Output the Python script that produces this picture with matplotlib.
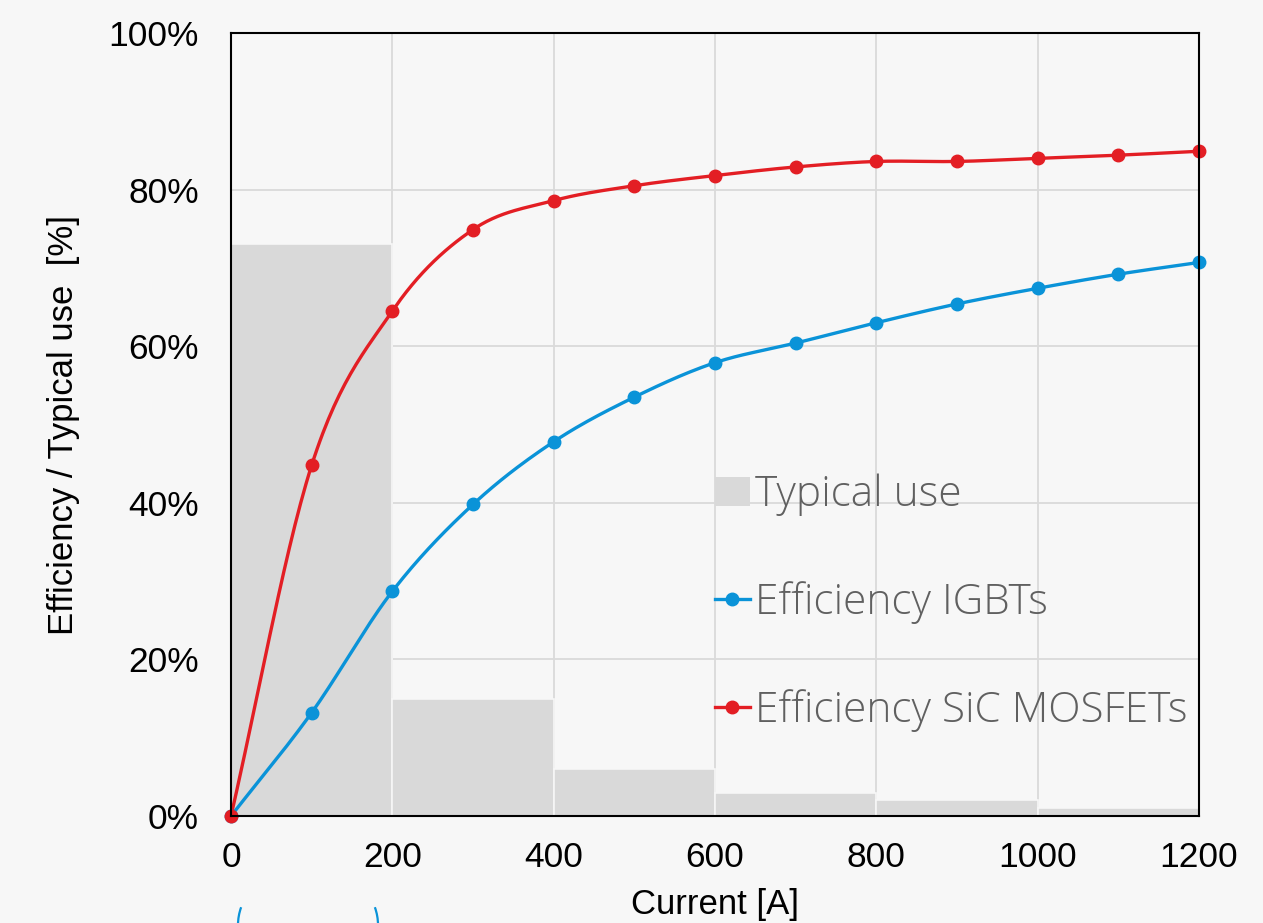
import numpy as np
import matplotlib.pyplot as plt
from matplotlib.patches import Arc, Patch
from matplotlib.lines import Line2D
from matplotlib.ticker import FuncFormatter

# Datos
corriente = [0, 100, 200, 300, 400, 500, 600, 700, 800, 900, 1000, 1100, 1200]
ef_igbt = [0, 13.2, 28.7, 39.8, 47.8, 53.5, 57.9, 60.4, 63.0, 65.4, 67.4, 69.2, 70.7]
ef_sic = [0, 44.8, 64.5, 74.9, 78.6, 80.5, 81.8, 82.9, 83.6, 83.6, 84.0, 84.4, 84.9]

tramos = [0, 200, 400, 600, 800, 1000]
uso_tipico = [73, 15, 6, 3, 2, 1]

BG = '#f7f7f7'
ROJO = '#e31e24'
AZUL = '#0a93d8'
GRIS_BARRA = '#d9d9d9'


def suavizar(x, y, n=30):
    # curva tipo Catmull-Rom (como el "suavizado" de Excel)
    x = np.asarray(x, float)
    y = np.asarray(y, float)
    px = np.concatenate([[2 * x[0] - x[1]], x, [2 * x[-1] - x[-2]]])
    py = np.concatenate([[2 * y[0] - y[1]], y, [2 * y[-1] - y[-2]]])
    xs, ys = [], []
    t = np.linspace(0, 1, n)
    for i in range(1, len(px) - 2):
        for arr, out in ((px, xs), (py, ys)):
            p0, p1, p2, p3 = arr[i - 1], arr[i], arr[i + 1], arr[i + 2]
            out.extend(0.5 * ((2 * p1) + (-p0 + p2) * t
                              + (2 * p0 - 5 * p1 + 4 * p2 - p3) * t ** 2
                              + (-p0 + 3 * p1 - 3 * p2 + p3) * t ** 3))
    return np.array(xs), np.array(ys)


fig = plt.figure(figsize=(12.63, 9.23), dpi=100, facecolor=BG)
ax = fig.add_axes([0.1829, 0.1159, 0.7664, 0.8483], facecolor=BG)

ax.bar(tramos, uso_tipico, width=200, align='edge', color=GRIS_BARRA,
       edgecolor=BG, linewidth=1.2, zorder=2)

for y, color in ((ef_igbt, AZUL), (ef_sic, ROJO)):
    xs, ys = suavizar(corriente, y)
    ax.plot(xs, ys, color=color, linewidth=2.4, zorder=3, clip_on=False)
    ax.plot(corriente, y, 'o', color=color, markersize=9, zorder=4, clip_on=False)

ax.set_xlim(0, 1200)
ax.set_ylim(0, 100)
ax.set_xticks(range(0, 1201, 200))
ax.set_yticks(range(0, 101, 20))
ax.yaxis.set_major_formatter(FuncFormatter(lambda v, p: f"{v:.0f}%"))
ax.grid(True, color='#dadada', linewidth=1.3, zorder=0)
ax.set_axisbelow(True)
for s in ax.spines.values():
    s.set_color('black')
    s.set_linewidth(1.5)
    s.set_zorder(5)

fuente = ['Liberation Sans', 'DejaVu Sans']
ax.tick_params(length=0, labelsize=25.5, pad=18, axis='x')
ax.tick_params(length=0, labelsize=25.5, pad=23, axis='y')
for lab in ax.get_xticklabels() + ax.get_yticklabels():
    lab.set_family(fuente)
ax.set_xlabel('Current [A]', fontsize=25, family=fuente, labelpad=10)
ax.set_ylabel('Efficiency / Typical use  [%]', fontsize=25, family=fuente, labelpad=21)

handles = [Patch(facecolor=GRIS_BARRA, edgecolor='none'),
           Line2D([], [], color=AZUL, linewidth=2.4, marker='o', markersize=9),
           Line2D([], [], color=ROJO, linewidth=2.4, marker='o', markersize=9)]
labels = ['Typical use', 'Efficiency IGBTs', 'Efficiency SiC MOSFETs']
leg = ax.legend(handles, labels, loc='upper left', bbox_to_anchor=(0.482, 0.4585),
                frameon=False, handlelength=0.84, handletextpad=0.12,
                labelspacing=1.53, borderaxespad=0,
                prop={'family': ['Open Sans', 'DejaVu Sans'], 'size': 30.5, 'weight': 'light'})
for t in leg.get_texts():
    t.set_color('#606060')

# trozo de elipse azul cortado al pie de la figura
centro = (308 / 1263, 1 - 925 / 923)
for a1, a2 in ((160, 200), (-20, 20)):
    fig.patches.append(Arc(centro, 140 / 1263, 120 / 923, theta1=a1, theta2=a2,
                           color=AZUL, linewidth=1.6, transform=fig.transFigure))

fig.savefig('out.png', dpi=100, facecolor=BG)
